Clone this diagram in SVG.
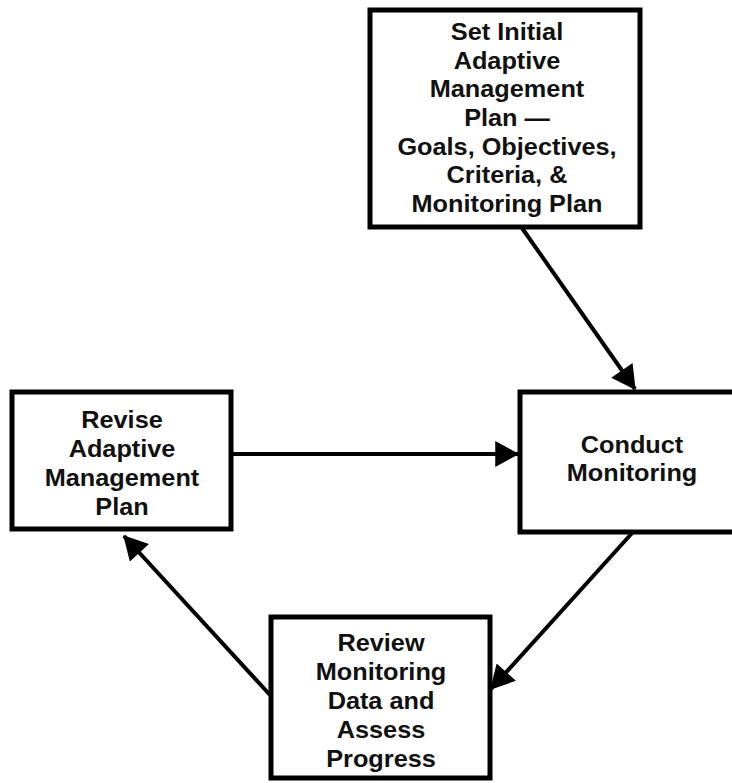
<svg xmlns="http://www.w3.org/2000/svg" width="732" height="783" viewBox="0 0 732 783">
<style>
.box{fill:#fff;stroke:#000;stroke-width:5}
.t{font-family:"Liberation Sans",Arial,sans-serif;font-weight:bold;font-size:23px;fill:#111;text-anchor:middle}
.c{fill:none;stroke:#000;stroke-width:4;marker-end:url(#ah)}
</style>
<defs>
<marker id="ah" markerUnits="userSpaceOnUse" markerWidth="26" markerHeight="26" viewBox="0 0 22 24" refX="21" refY="12" orient="auto">
<path d="M0,0 L22,12 L0,24 Z" fill="#000"/>
</marker>
</defs>
<rect width="732" height="783" fill="#fff"/>
<g id="connectors">
<line class="c" x1="522" y1="228" x2="635" y2="389"/>
<line class="c" x1="232" y1="454" x2="518" y2="454"/>
<line class="c" x1="633" y1="532" x2="491" y2="689"/>
<line class="c" x1="270" y1="695" x2="124" y2="536"/>
</g>
<g id="n_set">
<rect class="box" x="370" y="10" width="270" height="217"/>
<g class="t">
<text transform="translate(507,40) scale(1.1,1)">Set Initial</text>
<text transform="translate(507,68.7) scale(1.1,1)">Adaptive</text>
<text transform="translate(507,97.3) scale(1.1,1)">Management</text>
<text transform="translate(507,126) scale(1.1,1)">Plan —</text>
<text transform="translate(507,154.7) scale(1.1,1)">Goals, Objectives,</text>
<text transform="translate(507,183.3) scale(1.1,1)">Criteria, &amp;</text>
<text transform="translate(507,212) scale(1.1,1)">Monitoring Plan</text>
</g>
</g>
<g id="n_revise">
<rect class="box" x="12" y="392" width="219" height="137"/>
<g class="t">
<text transform="translate(122,428) scale(1.1,1)">Revise</text>
<text transform="translate(122,457) scale(1.1,1)">Adaptive</text>
<text transform="translate(122,486) scale(1.1,1)">Management</text>
<text transform="translate(122,515) scale(1.1,1)">Plan</text>
</g>
</g>
<g id="n_conduct">
<rect class="box" x="520" y="392" width="224" height="140"/>
<g class="t">
<text transform="translate(632,453) scale(1.1,1)">Conduct</text>
<text transform="translate(632,481) scale(1.1,1)">Monitoring</text>
</g>
</g>
<g id="n_review">
<rect class="box" x="271" y="617" width="219" height="161"/>
<g class="t">
<text transform="translate(381,651) scale(1.1,1)">Review</text>
<text transform="translate(381,680) scale(1.1,1)">Monitoring</text>
<text transform="translate(381,709) scale(1.1,1)">Data and</text>
<text transform="translate(381,738) scale(1.1,1)">Assess</text>
<text transform="translate(381,767) scale(1.1,1)">Progress</text>
</g>
</g>
</svg>
